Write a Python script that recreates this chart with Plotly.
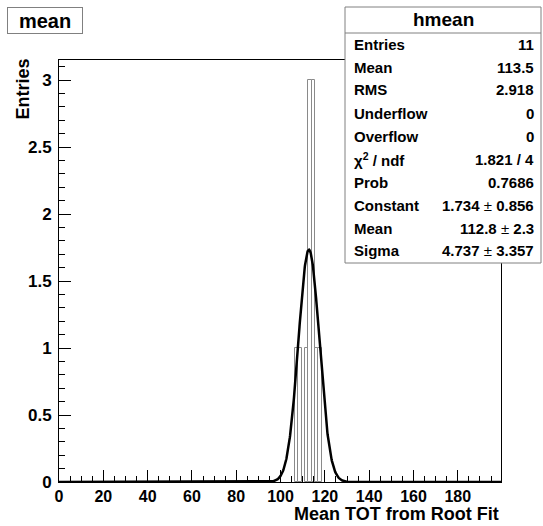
import numpy as np
import plotly.graph_objects as go

# ---- data ----
bin_width = 1.5
bin_centers = [107.25, 108.75, 111.75, 113.25, 114.75, 116.25, 117.75]
bin_counts = [1, 1, 1, 3, 3, 1, 1]

# Gaussian fit parameters (from stats box)
fit_constant = 1.734
fit_mean = 112.8
fit_sigma = 4.737

stats_labels = ["Entries", "Mean", "RMS", "Underflow", "Overflow",
                "χ<sup>2</sup> / ndf", "Prob", "Constant", "Mean", "Sigma"]
stats_values = ["11", "113.5", "2.918", "0", "0", "1.821 / 4", "0.7686",
                "1.734 ± 0.856", "112.8 ± 2.3", "4.737 ± 3.357"]

x_range = [0, 199.5]
y_range = [0, 3.15]

# ---- figure geometry ----
W, H = 543, 526
L, R, T, B = 59, 501, 60, 482
FONT = "Liberation Sans"


def px(xp):
    return (xp - L) / (R - L)


def py(yp):
    return (B - yp) / (B - T)


fit_x = np.linspace(x_range[0], x_range[1], 1600)
fit_y = fit_constant * np.exp(-0.5 * ((fit_x - fit_mean) / fit_sigma) ** 2)

fig = go.Figure()
fig.add_trace(go.Bar(
    x=bin_centers, y=bin_counts, width=[bin_width] * len(bin_centers),
    marker=dict(color="white", line=dict(color="#8a8a8a", width=1)),
    showlegend=False, hoverinfo="skip",
))
fig.add_trace(go.Scatter(
    x=fit_x, y=fit_y, mode="lines",
    line=dict(color="black", width=2.5),
    showlegend=False, hoverinfo="skip",
))

xtickfont = dict(family=FONT, size=16, color="black", weight="bold")
ytickfont = dict(family=FONT, size=17, color="black", weight="bold")
fig.update_xaxes(
    range=x_range, tick0=0, dtick=20, ticks="inside", ticklen=12,
    tickcolor="black", tickwidth=1,
    minor=dict(dtick=5, ticks="inside", ticklen=6, tickcolor="black"),
    showline=True, linecolor="black", linewidth=1, mirror=True,
    showgrid=False, zeroline=False, tickfont=xtickfont, ticklabelstandoff=0,
)
fig.update_yaxes(
    range=y_range, tick0=0, dtick=0.5, ticks="inside", ticklen=12,
    tickcolor="black", tickwidth=1,
    minor=dict(dtick=0.1, ticks="inside", ticklen=6, tickcolor="black"),
    showline=True, linecolor="black", linewidth=1, mirror=True,
    showgrid=False, zeroline=False, tickfont=ytickfont, ticklabelstandoff=3,
)

shapes = []
annotations = []

# title box "mean"
annotations.append(dict(
    xref="paper", yref="paper", x=px(7), y=py(7), xanchor="left", yanchor="top",
    text="<b>mean</b>", showarrow=False, width=74, height=25, borderpad=0,
    bordercolor="#808080", borderwidth=1, bgcolor="white",
    font=dict(family=FONT, size=20, color="black"),
))

# axis titles
annotations.append(dict(
    xref="paper", yref="paper", x=px(22), y=py(57), xanchor="center", yanchor="top",
    text="<b>Entries</b>", textangle=-90, showarrow=False,
    font=dict(family=FONT, size=18, color="black"),
))
annotations.append(dict(
    xref="paper", yref="paper", x=px(501), y=py(526), xanchor="right", yanchor="bottom",
    text="<b>Mean TOT from Root Fit</b>", showarrow=False,
    font=dict(family=FONT, size=18, color="black"),
))

# stats box
bx0, bx1, by0, by1 = 345, 541, 7, 263
shapes.append(dict(type="rect", xref="paper", yref="paper",
                   x0=px(bx0), x1=px(bx1), y0=py(by1), y1=py(by0),
                   line=dict(color="#808080", width=1), fillcolor="white", layer="above"))
shapes.append(dict(type="line", xref="paper", yref="paper",
                   x0=px(bx0), x1=px(bx1), y0=py(33), y1=py(33),
                   line=dict(color="#808080", width=1), layer="above"))
annotations.append(dict(
    xref="paper", yref="paper", x=px((bx0 + bx1) / 2), y=py(20),
    xanchor="center", yanchor="middle", text="<b>hmean</b>", showarrow=False,
    font=dict(family=FONT, size=19, color="black"),
))
for i, (lab, val) in enumerate(zip(stats_labels, stats_values)):
    yy = py(44 + 23.0 * i)
    annotations.append(dict(
        xref="paper", yref="paper", x=px(352), y=yy, xanchor="left", yanchor="middle",
        text="<b>" + lab + "</b>", showarrow=False,
        font=dict(family=FONT, size=15, color="black"),
    ))
    annotations.append(dict(
        xref="paper", yref="paper", x=px(536), y=yy, xanchor="right", yanchor="middle",
        text="<b>" + val.replace(" ± ", "</b> ± <b>") + "</b>", showarrow=False,
        font=dict(family=FONT, size=15, color="black"),
    ))

fig.update_layout(
    width=W, height=H, autosize=False,
    margin=dict(l=L, r=W - R, t=T, b=H - B, pad=0),
    paper_bgcolor="white", plot_bgcolor="white",
    barmode="overlay", bargap=0,
    shapes=shapes, annotations=annotations,
    font=dict(family=FONT, color="black"),
)

fig.write_html(
    "out.html",
    config={"displayModeBar": False},
    post_script="document.body.style.margin='0';document.body.style.overflow='hidden';",
)
